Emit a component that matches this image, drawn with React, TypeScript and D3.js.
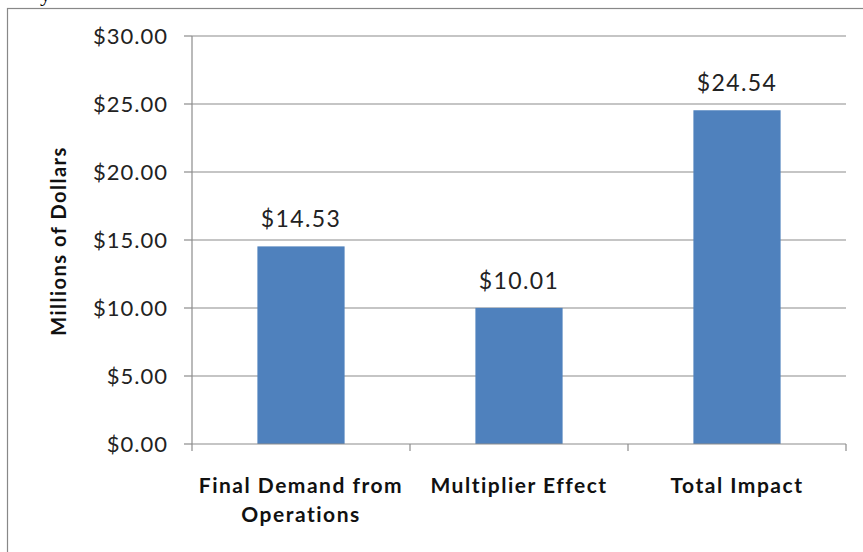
import React from "react";
import * as d3 from "d3";

const categories = ["Final Demand from Operations", "Multiplier Effect", "Total Impact"];
const categoryLines = [["Final Demand from", "Operations"], ["Multiplier Effect"], ["Total Impact"]];
const values = [14.53, 10.01, 24.54];
const yTicks = [0, 5, 10, 15, 20, 25, 30];
const yTitle = "Millions of Dollars";

const W = 863, H = 552;
const left = 192, right = 846, top = 36, bottom = 444;
const font = "Lato, 'Open Sans', sans-serif";

export default function App() {
  const x = d3.scaleBand<string>().domain(categories).range([left, right]).paddingInner(0.6).paddingOuter(0.3);
  const y = d3.scaleLinear().domain([0, 30]).range([bottom, top]);
  const fmt = (v: number) => "$" + d3.format(".2f")(v);
  const tickXs = d3.range(categories.length + 1).map((i) => left + (i * (right - left)) / categories.length);
  return (
    <svg width={W} height={H} style={{ position: "absolute", left: 0, top: 0, background: "#fff" }}>
      <text x={40} y={1} fontFamily="'Liberation Serif', serif" fontSize={22} fill="#000">y</text>
      <rect x={7.5} y={8.5} width={W + 10} height={H + 10} fill="none" stroke="#888" strokeWidth={1.2} />
      {yTicks.map((t) => (
        <g key={t}>
          {t > 0 && <line x1={left} x2={right} y1={y(t)} y2={y(t)} stroke="#8c8c8c" strokeWidth={1.2} />}
          <line x1={184} x2={left} y1={y(t)} y2={y(t)} stroke="#8c8c8c" strokeWidth={1.2} />
          <text x={168} y={y(t)} dy="0.36em" textAnchor="end" fontFamily={font} fontSize={22} letterSpacing={1} fill="#222">{fmt(t)}</text>
        </g>
      ))}
      {values.map((v, i) => {
        const c = categories[i];
        const bx = x(c)!;
        return (
          <g key={c}>
            <rect x={bx} y={y(v)} width={x.bandwidth()} height={bottom - y(v)} fill="#4F81BD" />
            <text x={bx + x.bandwidth() / 2} y={y(v) - 19} textAnchor="middle" fontFamily={font} fontSize={23} letterSpacing={1.4} fill="#222">{fmt(v)}</text>
            {categoryLines[i].map((ln, j) => (
              <text key={j} x={bx + x.bandwidth() / 2} y={493 + j * 29} textAnchor="middle" fontFamily={font} fontWeight="bold" fontSize={21} letterSpacing={1.5} fill="#111">{ln}</text>
            ))}
          </g>
        );
      })}
      <line x1={left} x2={left} y1={top} y2={bottom} stroke="#8c8c8c" strokeWidth={1.2} />
      <line x1={left} x2={right} y1={bottom} y2={bottom} stroke="#8c8c8c" strokeWidth={1.2} />
      {tickXs.map((tx, i) => (
        <line key={i} x1={tx} x2={tx} y1={bottom} y2={bottom + 7} stroke="#8c8c8c" strokeWidth={1.2} />
      ))}
      <text transform={`translate(66,241) rotate(-90)`} textAnchor="middle" fontFamily={font} fontWeight="bold" fontSize={20} letterSpacing={1.5} fill="#111">{yTitle}</text>
    </svg>
  );
}
